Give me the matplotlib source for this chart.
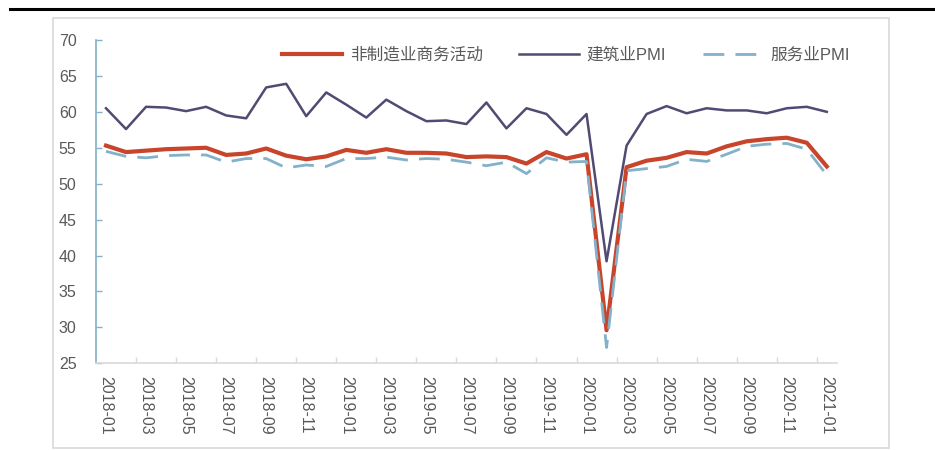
import matplotlib
matplotlib.use("Agg")
import matplotlib.pyplot as plt
from matplotlib.lines import Line2D
from matplotlib.patches import Rectangle
import numpy as np
import pandas as pd

plt.rcParams["font.family"] = ["Liberation Sans", "Noto Sans CJK SC"]

# monthly index, 2018-01 .. 2021-01
months = pd.period_range("2018-01", "2021-01", freq="M").strftime("%Y-%m").tolist()

non_manufacturing = [55.3, 54.4, 54.6, 54.8, 54.9, 55.0, 54.0, 54.2, 54.9, 53.9, 53.4, 53.8,
                     54.7, 54.3, 54.8, 54.3, 54.3, 54.2, 53.7, 53.8, 53.7, 52.8, 54.4, 53.5,
                     54.1, 29.6, 52.3, 53.2, 53.6, 54.4, 54.2, 55.2, 55.9, 56.2, 56.4, 55.7,
                     52.4]
construction = [60.5, 57.6, 60.7, 60.6, 60.1, 60.7, 59.5, 59.1, 63.4, 63.9, 59.4, 62.7,
                61.0, 59.2, 61.7, 60.1, 58.7, 58.8, 58.3, 61.3, 57.7, 60.5, 59.7, 56.8,
                59.7, 39.2, 55.3, 59.7, 60.8, 59.8, 60.5, 60.2, 60.2, 59.8, 60.5, 60.7,
                60.0]
services = [54.5, 53.8, 53.6, 53.9, 54.0, 54.0, 53.0, 53.5, 53.5, 52.2, 52.6, 52.4,
            53.5, 53.5, 53.7, 53.3, 53.5, 53.4, 53.0, 52.5, 53.0, 51.4, 53.6, 53.0,
            53.1, 27.2, 51.8, 52.1, 52.4, 53.4, 53.1, 54.1, 55.2, 55.5, 55.6, 54.8,
            51.2]

labels = ["非制造业商务活动", "建筑业PMI", "服务业PMI"]

RED = "#C8452B"
PURPLE = "#514A72"
BLUE = "#82B1C9"
TEXT = "#595959"

fig = plt.figure(figsize=(9.35, 4.5), dpi=100)
ax = fig.add_axes([96.0 / 935, 1 - 363.3 / 450, (836.8 - 96.0) / 935, (363.3 - 40.0) / 450])

x = np.arange(len(months))
ax.plot(x, non_manufacturing, color=RED, lw=3.0, label=labels[0], zorder=3, solid_joinstyle="round")
ax.plot(x, construction, color=PURPLE, lw=1.8, label=labels[1], zorder=2)
ax.plot(x, services, color=BLUE, lw=2.0, dashes=(7.5, 4), label=labels[2], zorder=4)

ax.set_xlim(-0.5, len(months) - 0.5)
ax.set_ylim(25, 70)
ax.set_yticks(np.arange(25, 71, 5))
ax.set_xticks(x[::2])
ax.set_xticklabels(months[::2], rotation=270, ha="center", va="top")
ax.set_xticks(np.arange(1.5, len(months) - 1, 2), minor=True)

for s in ["top", "right"]:
    ax.spines[s].set_visible(False)
ax.spines["left"].set_color(BLUE)
ax.spines["left"].set_linewidth(1.2)
ax.spines["bottom"].set_color("#D9D9D9")
ax.spines["bottom"].set_linewidth(1.2)

ax.tick_params(axis="y", direction="in", length=4, width=1, color=BLUE,
               labelsize=11.5, labelcolor=TEXT, pad=14)
ax.tick_params(axis="x", which="major", length=0, labelsize=11.5, labelcolor=TEXT, pad=9)
ax.tick_params(axis="x", which="minor", direction="in", length=4, width=1, color="#D9D9D9")

leg = ax.legend(loc="center", bbox_to_anchor=(566 / 935, 1 - 55 / 450), bbox_transform=fig.transFigure,
                ncol=3, frameon=False, fontsize=12, handlelength=3.6, handletextpad=0.45,
                columnspacing=2.2, borderaxespad=0)
for t in leg.get_texts():
    t.set_color(TEXT)

# page decorations: heavy rule on top, light frame around the chart
fig.add_artist(Line2D([10 / 935, 1], [1 - 8.5 / 450] * 2, transform=fig.transFigure,
                      color="black", lw=2.2))
fig.add_artist(Rectangle((53 / 935, 1 - 448 / 450), (889 - 53) / 935, (448 - 18) / 450,
                         transform=fig.transFigure, fill=False, edgecolor="#D9D9D9", lw=1.2))

fig.savefig("out.png", dpi=100, facecolor="white")
